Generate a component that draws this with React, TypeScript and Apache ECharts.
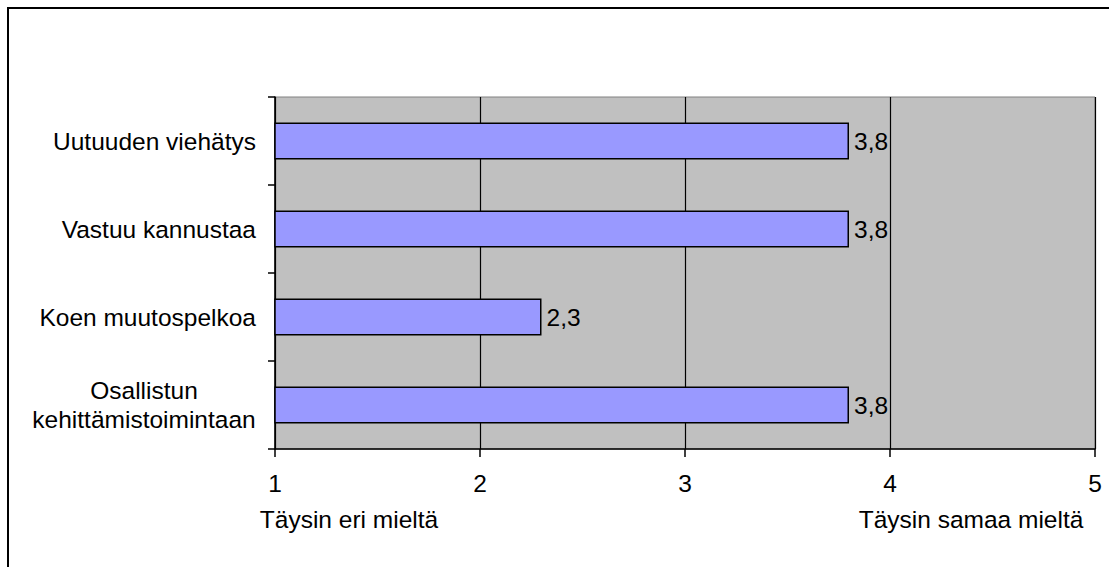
import React, { useEffect, useRef } from "react";
import * as echarts from "echarts";

// Survey statements (top to bottom) and their mean scores on a 1–5 scale
const categories = [
  "Uutuuden viehätys",
  "Vastuu kannustaa",
  "Koen muutospelkoa",
  "Osallistun\nkehittämistoimintaan",
];
const scores = [3.8, 3.8, 2.3, 3.8];
const scaleMin = 1;
const scaleMax = 5;
const scaleEndLabels = ["Täysin eri mieltä", "Täysin samaa mieltä"];

const FONT = "'Liberation Sans', Arial, sans-serif";
const FS = 24.5;

export default function App() {
  const ref = useRef<HTMLDivElement>(null);

  useEffect(() => {
    if (!ref.current) return;
    const chart = echarts.init(ref.current, undefined, { renderer: "svg" });

    const fmtComma = (v: number) => String(v).replace(".", ",");

    chart.setOption({
      animation: false,
      backgroundColor: "#ffffff",
      textStyle: { fontFamily: FONT },
      grid: {
        left: 275,
        right: 14,
        top: 97,
        bottom: 118,
        show: true,
        backgroundColor: "#C0C0C0",
        borderColor: "#808080",
        borderWidth: 1,
      },
      xAxis: {
        type: "value",
        min: scaleMin,
        max: scaleMax,
        interval: 1,
        axisLine: { show: true, lineStyle: { color: "#000", width: 1.5 } },
        axisTick: { show: true, length: 8, lineStyle: { color: "#000", width: 1.5 } },
        axisLabel: {
          color: "#000",
          fontSize: FS,
          fontFamily: FONT,
          margin: 22,
        },
        splitLine: { show: true, lineStyle: { color: "#000", width: 1.2 } },
      },
      yAxis: {
        type: "category",
        inverse: true,
        data: categories,
        axisLine: { show: true, lineStyle: { color: "#000", width: 1.5 } },
        axisTick: { show: true, length: 7, alignWithLabel: false, lineStyle: { color: "#000", width: 1.5 } },
        axisLabel: {
          color: "#000",
          fontSize: FS,
          fontFamily: FONT,
          margin: 19,
          lineHeight: 29,
          formatter: (v: string) =>
            v.includes("\n")
              ? v
                  .split("\n")
                  .map((l) => `{c|${l}}`)
                  .join("\n")
              : v,
          rich: {
            c: {
              width: 224,
              align: "center",
              fontSize: FS,
              fontFamily: FONT,
              color: "#000",
              lineHeight: 29,
            },
          },
        },
        splitLine: { show: false },
      },
      series: [
        {
          type: "bar",
          data: scores,
          barWidth: "42%",
          itemStyle: { color: "#9999FF", borderColor: "#000", borderWidth: 1.5 },
          label: {
            show: true,
            position: "right",
            distance: 5,
            color: "#000",
            fontSize: FS,
            fontFamily: FONT,
            formatter: (p: any) => fmtComma(p.value),
          },
        },
      ],
      graphic: [
        {
          type: "rect",
          shape: { x: 8, y: 8, width: 1200, height: 700 },
          style: { fill: "none", stroke: "#000", lineWidth: 2 },
          silent: true,
          z: 100,
        },
        {
          type: "text",
          x: 349,
          y: 519,
          style: {
            text: scaleEndLabels[0],
            fontSize: FS,
            fontFamily: FONT,
            fill: "#000",
            align: "center",
            verticalAlign: "middle",
          },
        },
        {
          type: "text",
          x: 971,
          y: 519,
          style: {
            text: scaleEndLabels[1],
            fontSize: FS,
            fontFamily: FONT,
            fill: "#000",
            align: "center",
            verticalAlign: "middle",
          },
        },
      ],
    });

    return () => chart.dispose();
  }, []);

  return (
    <div
      style={{
        position: "absolute",
        left: 0,
        top: 0,
        width: 1109,
        height: 567,
        overflow: "hidden",
        background: "#fff",
      }}
    >
      <div ref={ref} style={{ width: 1109, height: 567 }} />
    </div>
  );
}
